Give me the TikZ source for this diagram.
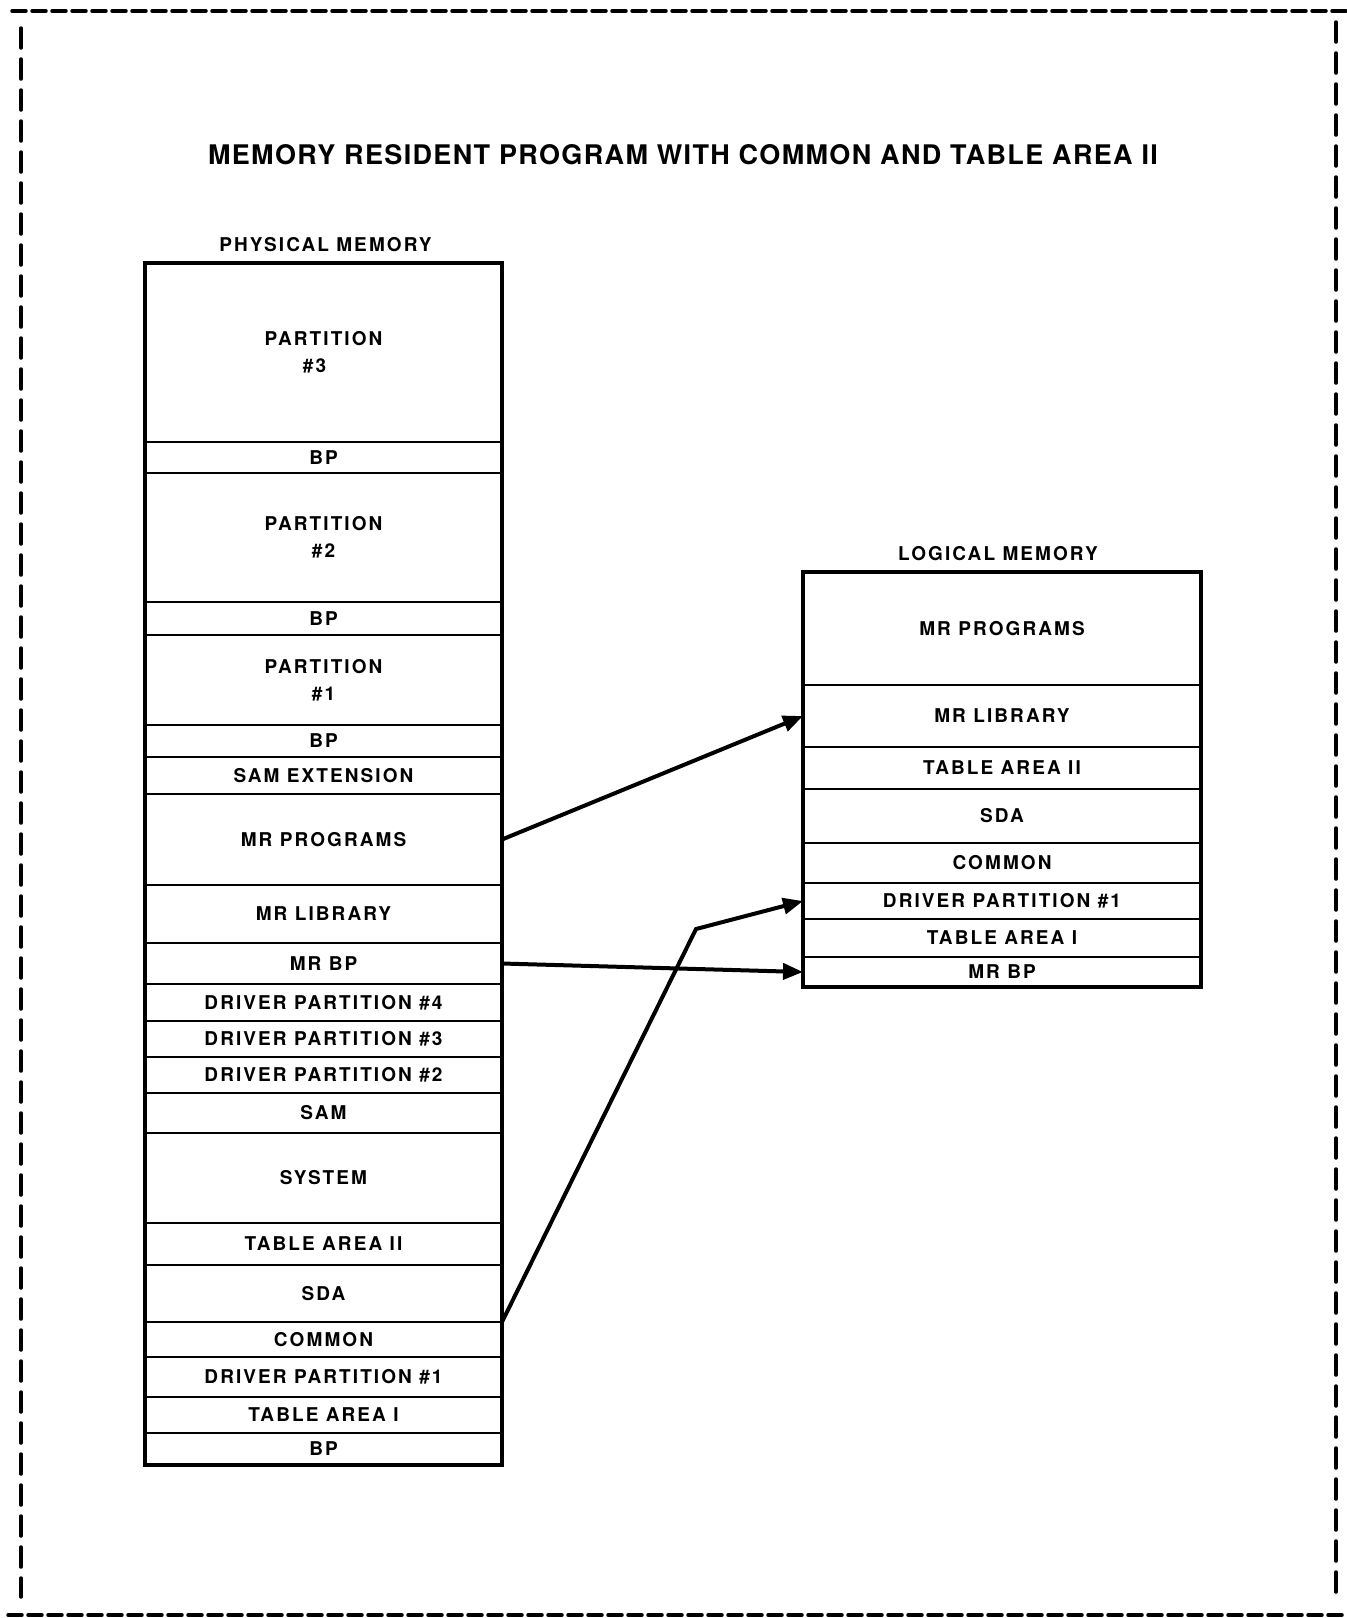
\documentclass[tikz,border=0pt]{standalone}
\usepackage{fontspec}
\setmainfont{TeX Gyre Heros}
\newfontfamily\cellfont[LetterSpace=11]{TeX Gyre Heros}
\newfontfamily\titlefont[LetterSpace=5]{TeX Gyre Heros}
\usetikzlibrary{positioning}
\usetikzlibrary{arrows.meta}

\tikzset{
  pcell/.style={draw, line width=1.2pt, outer sep=0pt, inner sep=0pt,
    minimum width=178.5pt, align=center,
    font=\cellfont\fontsize{9.5}{13.5}\selectfont\bfseries},
  lcell/.style={pcell, minimum width=199pt},
  memhead/.style={font=\cellfont\fontsize{9.5}{11}\selectfont\bfseries},
  box/.style={line width=1.8pt},
  map/.style={line width=2pt, -{Triangle[length=10pt,width=8pt]}},
  frame/.style={line width=1.75pt, line cap=round}
}

\begin{document}
\begin{tikzpicture}[x=0.5pt,y=-0.5pt]
\useasboundingbox (0,0) rectangle (1347,1618);
% dashed frame
\draw[frame, dash pattern=on 7pt off 3pt] (12,11) -- (1347,11);
\draw[frame, dash pattern=on 7pt off 3pt] (8,1615) -- (1347,1615);
\draw[frame, dash pattern=on 10pt off 5.5pt] (21,28) -- (21,1597);
\draw[frame, dash pattern=on 10pt off 5.5pt] (1336,22) -- (1336,1597);

\node[font=\titlefont\fontsize{13.5}{16}\selectfont\bfseries] (title) at (683,155)
  {MEMORY RESIDENT PROGRAM WITH COMMON AND TABLE AREA II};

% physical memory
\coordinate (ptop) at (323.5,263);
\foreach \nm/\hh/\txt [remember=\nm as \prev (initially ptop)] in {
  pp3/179/{PARTITION\\\#3\hspace*{9pt}}, pbpa/31/BP, pp2/129/{PARTITION\\\#2}, pbpb/33/BP,
  pp1/90/{PARTITION\\\#1}, pbpc/32/BP, psamext/37/SAM EXTENSION,
  pmrprog/91/MR PROGRAMS, pmrlib/58/MR LIBRARY, pmrbp/41/MR BP,
  pdp4/37/DRIVER PARTITION \#4, pdp3/36/DRIVER PARTITION \#3,
  pdp2/36/DRIVER PARTITION \#2, psam/40/SAM, psys/90/SYSTEM,
  ptab2/42/TABLE AREA II, psda/57/SDA, pcom/35/COMMON,
  pdp1/40/DRIVER PARTITION \#1, ptab1/36/TABLE AREA I, pbpd/32/BP}
  \node[pcell, minimum height=\hh*0.5pt, below=0pt of \prev] (\nm) {\txt};
\draw[box] (pp3.north west) rectangle (pbpd.south east);
\node[memhead, above=2pt of pp3.north, xshift=1pt] (phead) {PHYSICAL MEMORY};

% logical memory
\coordinate (ltop) at (1002,572);
\foreach \nm/\hh/\txt [remember=\nm as \prev (initially ltop)] in {
  lmrprog/113/MR PROGRAMS, lmrlib/62/MR LIBRARY, ltab2/42/TABLE AREA II,
  lsda/54/SDA, lcom/40/COMMON, ldp1/36/DRIVER PARTITION \#1,
  ltab1/38/TABLE AREA I, lmrbp/30/MR BP}
  \node[lcell, minimum height=\hh*0.5pt, below=0pt of \prev] (\nm) {\txt};
\draw[box] (lmrprog.north west) rectangle (lmrbp.south east);
\node[memhead, above=2pt of lmrprog.north, xshift=-2pt] (lhead) {LOGICAL MEMORY};

% mapping
\coordinate (bend) at (696,929);
\draw[map] (pmrprog.east) -- (lmrlib.west);
\draw[map] (pmrbp.east) -- (lmrbp.west);
\draw[map] (pcom.north east) -- (bend) -- (ldp1.west);
\end{tikzpicture}
\end{document}
